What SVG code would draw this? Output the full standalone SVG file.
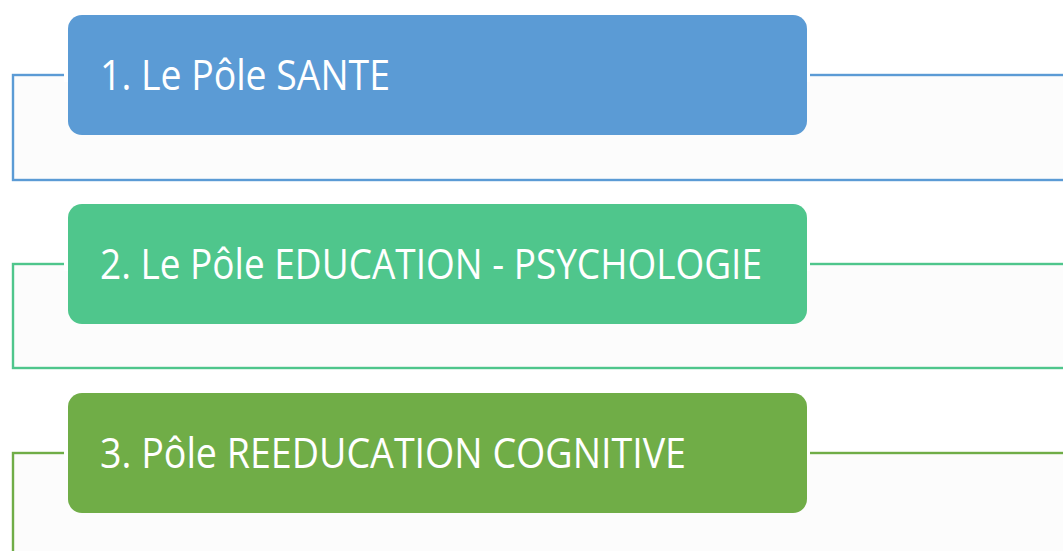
<svg xmlns="http://www.w3.org/2000/svg" width="1063" height="551" viewBox="0 0 1063 551">
<style>
.frame{fill:#fcfcfc;stroke-width:2.4}
.lbl{font-family:"Open Sans","Liberation Sans",sans-serif;font-size:42px;fill:#ffffff}
</style>
<rect width="1063" height="551" fill="#ffffff"/>
<g id="connectors">
<rect class="frame" x="13" y="75" width="1060" height="105" stroke="#5B9BD5"/>
<rect class="frame" x="13" y="264" width="1060" height="104" stroke="#4FC68C"/>
<rect class="frame" x="13" y="453" width="1060" height="110" stroke="#70AD47"/>
<rect x="64" y="70" width="746" height="12" fill="#ffffff"/>
<rect x="64" y="259" width="746" height="12" fill="#ffffff"/>
<rect x="64" y="448" width="746" height="12" fill="#ffffff"/>
</g>
<g id="node1">
<rect x="68" y="15" width="739" height="120" rx="14" fill="#5B9BD5"/>
<text class="lbl" x="100" y="90" textLength="290" lengthAdjust="spacingAndGlyphs">1. Le Pôle SANTE</text>
</g>
<g id="node2">
<rect x="68" y="204" width="739" height="120" rx="14" fill="#4FC68C"/>
<text class="lbl" x="100" y="279" textLength="662" lengthAdjust="spacingAndGlyphs">2. Le Pôle EDUCATION - PSYCHOLOGIE</text>
</g>
<g id="node3">
<rect x="68" y="393" width="739" height="120" rx="14" fill="#70AD47"/>
<text class="lbl" x="100" y="468" textLength="586" lengthAdjust="spacingAndGlyphs">3. Pôle REEDUCATION COGNITIVE</text>
</g>
</svg>
